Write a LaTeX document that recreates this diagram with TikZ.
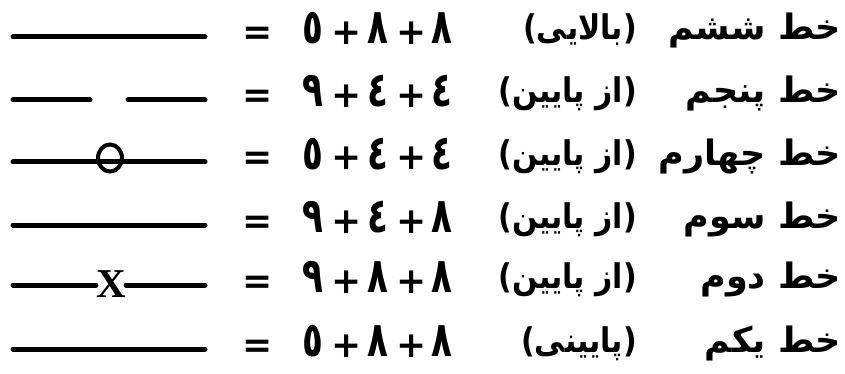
\documentclass[tikz,border=0pt]{standalone}
\usepackage{fontspec}
\usetikzlibrary{shapes.geometric}
\TeXXeTstate=1
\newfontfamily\arabicfont[Script=Arabic]{DejaVu Sans Bold}
\newfontfamily\symfont{DejaVu Sans Bold}
\newfontfamily\xfont{Liberation Serif Bold}
\begin{document}
\begin{tikzpicture}[x=1pt,y=-1pt,
  ln/.style={line width=5pt, line cap=round},
  nm/.style={font=\arabicfont\fontsize{35}{40}\selectfont, inner sep=0pt, anchor=base east},
  pr/.style={font=\arabicfont\fontsize{34}{40}\selectfont, inner sep=0pt, anchor=base east, xscale=0.88, transform shape},
  dg/.style={font=\arabicfont\fontsize{36}{40}\selectfont, inner sep=0pt, anchor=base, xscale=0.95, yscale=1.35, transform shape},
  op/.style={font=\symfont\fontsize{36}{40}\selectfont, inner sep=0pt, anchor=base},
]
\useasboundingbox (0,0) rectangle (845,374);
% row positions
\foreach \r/\y in {1/37,2/100,3/162,4/225,5/285,6/349}{
  \coordinate (a\r) at (13,\y);
  \coordinate (b\r) at (205,\y);
}
% symbols
\draw[ln] (a1) -- (b1);
\coordinate (c2) at (90,100); \coordinate (d2) at (128,100);
\draw[ln] (a2) -- (c2);
\draw[ln] (d2) -- (b2);
\draw[ln] (a3) -- (b3);
\node[ellipse, draw, line width=4pt, minimum width=24pt, minimum height=27pt, inner sep=0pt] (o3) at (110,158) {};
\draw[ln] (a4) -- (b4);
\node[font=\xfont\fontsize{41}{44}\selectfont, inner sep=0pt, anchor=base] (x5) at (111,297) {X};
\draw[ln] (a5) -- (a5 -| x5.west);
\draw[ln] (b5 -| x5.east) -- (b5);
\draw[ln] (a6) -- (b6);
% equations
\foreach \r/\y/\p/\q/\s in {1/37/٥/٨/٨, 2/100/٩/٤/٤, 3/162/٥/٤/٤, 4/225/٩/٤/٨, 5/285/٩/٨/٨, 6/349/٥/٨/٨}{
  \node[op] (e\r) at (258,\y+8) {=};
  \node[dg] (d\r) at (313,\y+7) {\p};
  \node[op] (p\r) at (347,\y+8) {+};
  \node[dg] (f\r) at (378,\y+7) {\q};
  \node[op] (q\r) at (412,\y+8) {+};
  \node[dg] (g\r) at (442,\y+7) {\s};
}
% names
\node[nm] (n1) at (841,40) {\beginR خط ششم\endR};
\node[nm] (n2) at (841,103) {\beginR خط پنجم\endR};
\node[nm] (n3) at (841,165) {\beginR خط چهارم\endR};
\node[nm] (n4) at (841,228) {\beginR خط سوم\endR};
\node[nm] (n5) at (841,288) {\beginR خط دوم\endR};
\node[nm] (n6) at (841,352) {\beginR خط یکم\endR};
\node[pr] (t1) at (637,40) {\beginR (بالایی)\endR};
\node[pr] (t2) at (637,103) {\beginR (از پایین)\endR};
\node[pr] (t3) at (637,165) {\beginR (از پایین)\endR};
\node[pr] (t4) at (637,228) {\beginR (از پایین)\endR};
\node[pr] (t5) at (637,288) {\beginR (از پایین)\endR};
\node[pr] (t6) at (637,352) {\beginR (پایینی)\endR};
\end{tikzpicture}
\end{document}
